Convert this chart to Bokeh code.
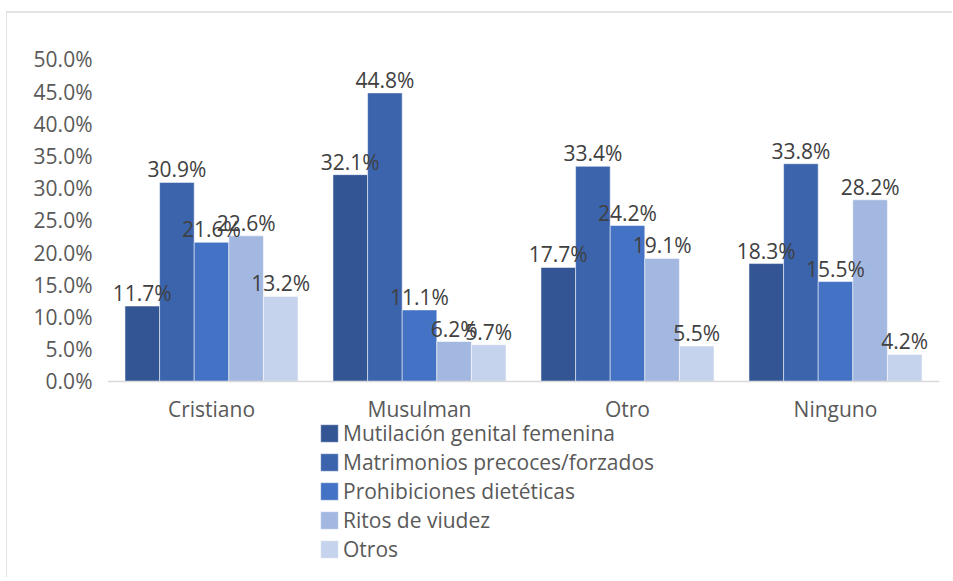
from bokeh.plotting import figure
from bokeh.models import (ColumnDataSource, FactorRange, FixedTicker, NumeralTickFormatter,
                          LabelSet, Legend, LegendItem)
from bokeh.transform import dodge
from bokeh.core.properties import value
from bokeh.embed import file_html
from bokeh.resources import INLINE

religiones = ["Cristiano", "Musulman", "Otro", "Ninguno"]
mutilacion = [0.117, 0.321, 0.177, 0.183]
matrimonios = [0.309, 0.448, 0.334, 0.338]
prohibiciones = [0.216, 0.111, 0.242, 0.155]
ritos = [0.226, 0.062, 0.191, 0.282]
otros = [0.132, 0.057, 0.055, 0.042]
series_names = ["Mutilación genital femenina", "Matrimonios precoces/forzados",
                "Prohibiciones dietéticas", "Ritos de viudez", "Otros"]
series_values = [mutilacion, matrimonios, prohibiciones, ritos, otros]
colors = ["#335593", "#3B64AD", "#4472C4", "#A3B8E0", "#C6D3EC"]
y_ticks = [0.0, 0.05, 0.10, 0.15, 0.20, 0.25, 0.30, 0.35, 0.40, 0.45, 0.50]

FONT = "Open Sans"
FS = "21px"
TICK_COLOR = "#595959"

p = figure(x_range=FactorRange(*religiones, range_padding=0), y_range=(-0.3075, 0.52),
           width=946, height=566, output_backend="svg", toolbar_location=None,
           min_border_left=100, min_border_right=14, min_border_top=33, min_border_bottom=0,
           title=None)
p.margin = (11, 0, 0, 6)
p.styles = {"border-top": "2px solid #e3e3e3", "border-left": "1px solid #e3e3e3"}
p.outline_line_color = None
p.xgrid.visible = False
p.ygrid.visible = False

bar_w = 0.1664
offsets = [-2 * bar_w, -bar_w, 0.0, bar_w, 2 * bar_w]

items = []
for name, vals, col, off in zip(series_names, series_values, colors, offsets):
    src = ColumnDataSource(dict(cat=religiones, val=vals,
                                txt=["%.1f%%" % (v * 100) for v in vals]))
    r = p.vbar(x=dodge("cat", off, range=p.x_range), top="val", width=bar_w, source=src,
               fill_color=col, line_color="white", line_width=1, line_alpha=0.5)
    items.append(LegendItem(label=name, renderers=[r]))
    lbl = LabelSet(x=dodge("cat", off, range=p.x_range), y="val", text="txt", source=src,
                   text_align="center", text_baseline="alphabetic", y_offset=5,
                   text_font=value(FONT), text_font_size=value(FS),
                   text_color=value("#404040"))
    p.add_layout(lbl)

p.yaxis.ticker = FixedTicker(ticks=y_ticks)
p.yaxis.formatter = NumeralTickFormatter(format="0.0%")
p.yaxis.axis_line_color = None
p.yaxis.major_tick_line_color = None
p.yaxis.minor_tick_line_color = None
p.yaxis.major_tick_out = 0
p.yaxis.major_tick_in = 0
p.yaxis.major_label_standoff = 15
p.yaxis.major_label_text_font = FONT
p.yaxis.major_label_text_font_size = FS
p.yaxis.major_label_text_color = TICK_COLOR

p.xaxis.fixed_location = 0
p.xaxis.axis_line_color = "#d9d9d9"
p.xaxis.axis_line_width = 1.5
p.xaxis.major_tick_line_color = None
p.xaxis.minor_tick_line_color = None
p.xaxis.major_tick_out = 0
p.xaxis.major_tick_in = 0
p.xaxis.major_label_standoff = 14
p.xaxis.major_label_text_font = FONT
p.xaxis.major_label_text_font_size = FS
p.xaxis.major_label_text_color = TICK_COLOR

lg = Legend(items=items, location=(211, 16), orientation="vertical",
            border_line_color=None, background_fill_alpha=0, padding=0, margin=0,
            spacing=1, label_height=23, glyph_height=22, glyph_width=22, label_standoff=3,
            label_text_font=FONT, label_text_font_size=FS, label_text_color=TICK_COLOR)
p.add_layout(lg, "center")

open("out.html", "w").write(file_html(p, INLINE))
